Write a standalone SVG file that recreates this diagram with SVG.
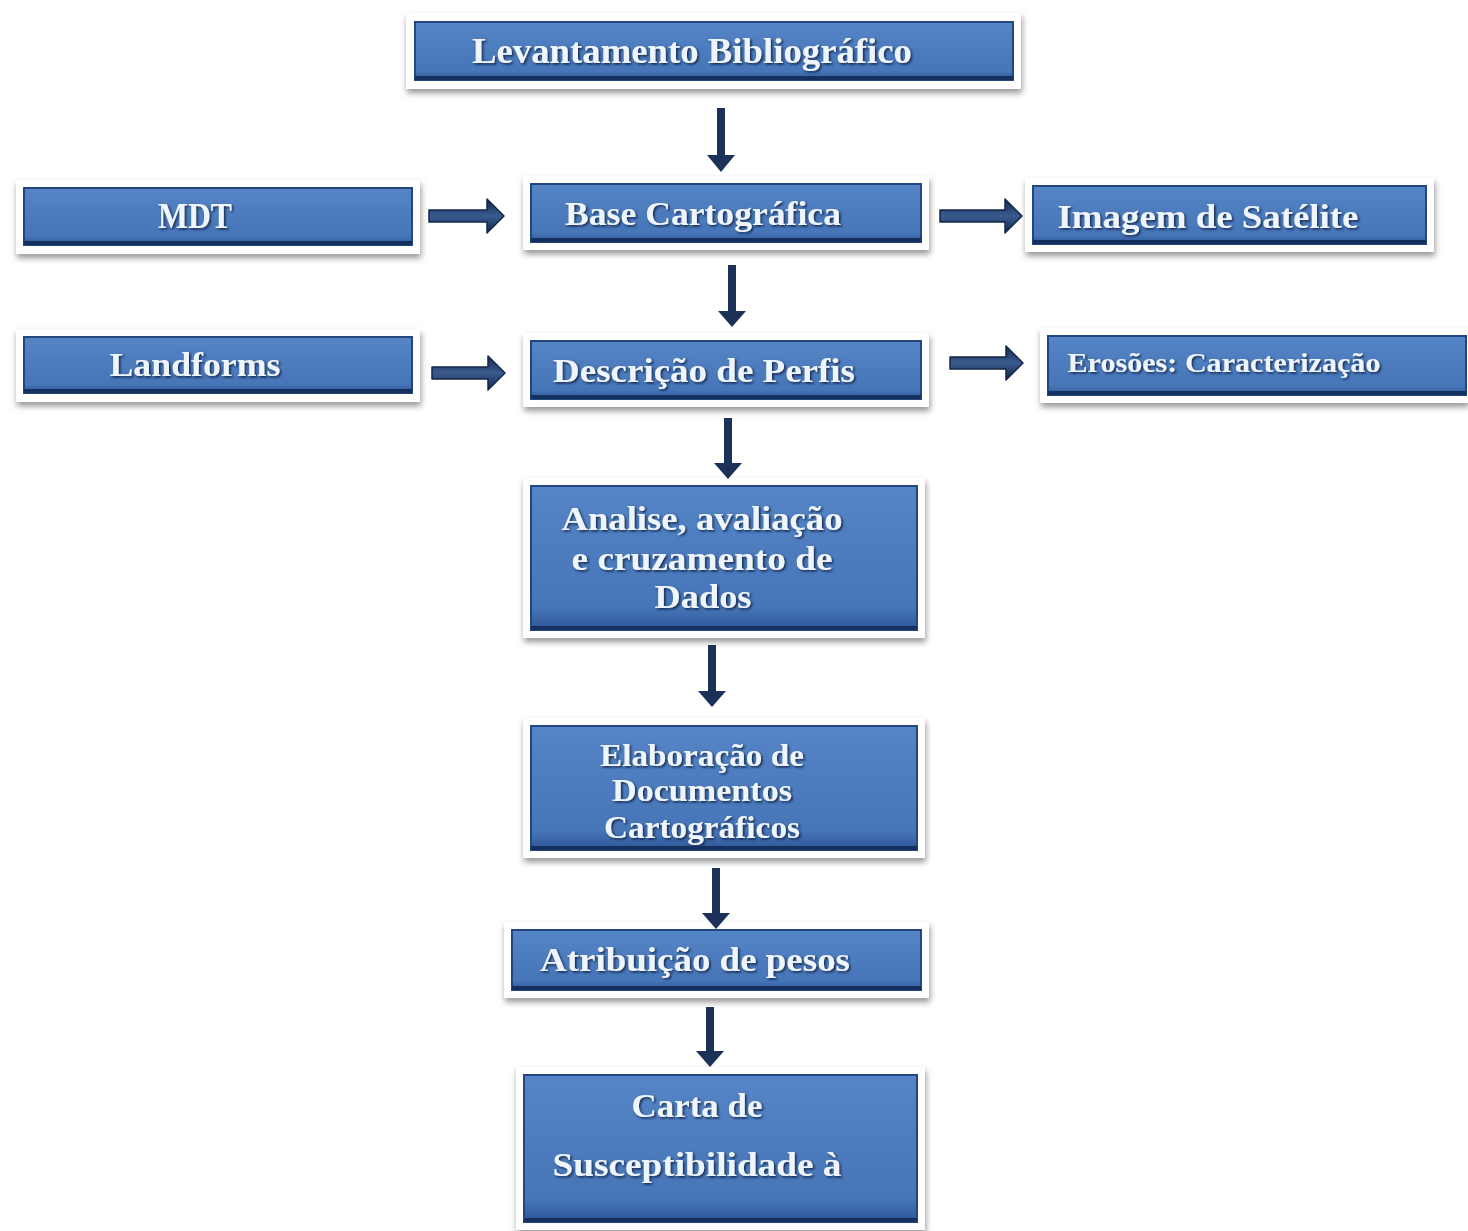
<svg xmlns="http://www.w3.org/2000/svg" width="1468" height="1231" viewBox="0 0 1468 1231">
<defs>
<linearGradient id="blue" x1="0" y1="0" x2="0" y2="1">
<stop offset="0" stop-color="#5585c6"/>
<stop offset="0.85" stop-color="#4675b8"/>
<stop offset="1" stop-color="#2d5597"/>
</linearGradient>
<linearGradient id="harrow" x1="0" y1="0" x2="0" y2="1">
<stop offset="0" stop-color="#14264a"/>
<stop offset="0.5" stop-color="#3a5b8f"/>
<stop offset="1" stop-color="#14264a"/>
</linearGradient>
<filter id="frameShadow" x="-5%" y="-20%" width="110%" height="150%">
<feDropShadow dx="1" dy="4" stdDeviation="3" flood-color="#7a7a7a" flood-opacity="0.8"/>
</filter>
<filter id="txtShadow" x="-5%" y="-20%" width="110%" height="150%">
<feDropShadow dx="1.5" dy="1.5" stdDeviation="1" flood-color="#0b1d3d" flood-opacity="0.9"/>
</filter>
<clipPath id="clipElab"><rect x="531" y="726" width="386" height="121"/></clipPath>
</defs>
<style>
.frame{fill:#ffffff;filter:url(#frameShadow)}
.box{fill:url(#blue);stroke:#24467f;stroke-width:2}
.bottom{fill:#14305e}
.t{font-family:"Liberation Serif","DejaVu Serif",serif;font-weight:bold;fill:#eef5fc;text-anchor:middle;filter:url(#txtShadow)}
.arrow{fill:#1b3158}
.harrow{fill:url(#harrow);stroke:#14264a;stroke-width:1.5;stroke-linejoin:round}
</style>
<rect width="1468" height="1231" fill="#ffffff"/>

<g id="n-levantamento">
<rect class="frame" x="406" y="13" width="615" height="76"/>
<rect class="box" x="415" y="22" width="598" height="58"/>
<rect class="bottom" x="415" y="76" width="598" height="4"/>
<text class="t" x="692" y="63" font-size="35" textLength="440" lengthAdjust="spacingAndGlyphs">Levantamento Bibliográfico</text>
</g>

<g id="n-mdt">
<rect class="frame" x="16" y="180" width="404" height="74"/>
<rect class="box" x="24" y="188" width="388" height="57"/>
<rect class="bottom" x="24" y="241" width="388" height="4"/>
<text class="t" x="195" y="228" font-size="35" textLength="74" lengthAdjust="spacingAndGlyphs">MDT</text>
</g>

<g id="n-base">
<rect class="frame" x="523" y="176" width="406" height="74"/>
<rect class="box" x="531" y="184" width="390" height="58"/>
<rect class="bottom" x="531" y="238" width="390" height="4"/>
<text class="t" x="703" y="225" font-size="34" textLength="276" lengthAdjust="spacingAndGlyphs">Base Cartográfica</text>
</g>

<g id="n-imagem">
<rect class="frame" x="1025" y="178" width="409" height="74"/>
<rect class="box" x="1033" y="186" width="393" height="58"/>
<rect class="bottom" x="1033" y="240" width="393" height="4"/>
<text class="t" x="1208" y="228" font-size="34" textLength="301" lengthAdjust="spacingAndGlyphs">Imagem de Satélite</text>
</g>

<g id="n-landforms">
<rect class="frame" x="16" y="329" width="404" height="73"/>
<rect class="box" x="24" y="337" width="388" height="56"/>
<rect class="bottom" x="24" y="389" width="388" height="4"/>
<text class="t" x="195" y="376" font-size="34" textLength="171" lengthAdjust="spacingAndGlyphs">Landforms</text>
</g>

<g id="n-descricao">
<rect class="frame" x="523" y="333" width="406" height="74"/>
<rect class="box" x="531" y="341" width="390" height="58"/>
<rect class="bottom" x="531" y="395" width="390" height="4"/>
<text class="t" x="704" y="382" font-size="34" textLength="302" lengthAdjust="spacingAndGlyphs">Descrição de Perfis</text>
</g>

<g id="n-erosoes">
<rect class="frame" x="1040" y="328" width="428" height="75"/>
<rect class="box" x="1048" y="336" width="418" height="59"/>
<rect class="bottom" x="1048" y="391" width="418" height="4"/>
<text class="t" x="1224" y="372" font-size="28" textLength="313" lengthAdjust="spacingAndGlyphs">Erosões: Caracterização</text>
</g>

<g id="n-analise">
<rect class="frame" x="523" y="478" width="402" height="160"/>
<rect class="box" x="531" y="486" width="386" height="144"/>
<rect class="bottom" x="531" y="626" width="386" height="4"/>
<text class="t" x="702" y="530" font-size="34" textLength="281" lengthAdjust="spacingAndGlyphs">Analise, avaliação</text>
<text class="t" x="702" y="570" font-size="34" textLength="261" lengthAdjust="spacingAndGlyphs">e cruzamento de</text>
<text class="t" x="703" y="608" font-size="34" textLength="97" lengthAdjust="spacingAndGlyphs">Dados</text>
</g>

<g id="n-elaboracao">
<rect class="frame" x="523" y="718" width="402" height="140"/>
<rect class="box" x="531" y="726" width="386" height="124"/>
<g clip-path="url(#clipElab)">
<text class="t" x="702" y="766" font-size="31" textLength="204" lengthAdjust="spacingAndGlyphs">Elaboração de</text>
<text class="t" x="702" y="801" font-size="31" textLength="180" lengthAdjust="spacingAndGlyphs">Documentos</text>
<text class="t" x="702" y="838" font-size="31" textLength="196" lengthAdjust="spacingAndGlyphs">Cartográficos</text>
</g>
<rect class="bottom" x="531" y="846" width="386" height="4"/>
</g>

<g id="n-atribuicao">
<rect class="frame" x="504" y="922" width="425" height="76"/>
<rect class="box" x="512" y="930" width="409" height="60"/>
<rect class="bottom" x="512" y="986" width="409" height="4"/>
<text class="t" x="695" y="971" font-size="34" textLength="310" lengthAdjust="spacingAndGlyphs">Atribuição de pesos</text>
</g>

<g id="n-carta">
<rect class="frame" x="516" y="1067" width="409" height="163"/>
<rect class="box" x="524" y="1075" width="393" height="147"/>
<rect class="bottom" x="524" y="1218" width="393" height="4"/>
<text class="t" x="697" y="1117" font-size="34" textLength="131" lengthAdjust="spacingAndGlyphs">Carta de</text>
<text class="t" x="697" y="1176" font-size="34" textLength="289" lengthAdjust="spacingAndGlyphs">Susceptibilidade à</text>
</g>

<g id="connectors">
<path class="arrow" d="M717,108 h8 v47 h10 l-14,17 l-14,-17 h10 z"/>
<path class="arrow" d="M728,265 h8 v46 h10 l-14,16 l-14,-16 h10 z"/>
<path class="arrow" d="M724,418 h8 v45 h10 l-14,16 l-14,-16 h10 z"/>
<path class="arrow" d="M708,645 h8 v46 h10 l-14,16 l-14,-16 h10 z"/>
<path class="arrow" d="M712,868 h8 v45 h10 l-14,16 l-14,-16 h10 z"/>
<path class="arrow" d="M706,1007 h8 v44 h10 l-14,16 l-14,-16 h10 z"/>
<path class="harrow" d="M429,210 h58 v-11 l17,17 l-17,17 v-11 h-58 z"/>
<path class="harrow" d="M940,210 h65 v-11 l17,17 l-17,17 v-11 h-65 z"/>
<path class="harrow" d="M432,367 h56 v-11 l17,17 l-17,17 v-11 h-56 z"/>
<path class="harrow" d="M950,357 h56 v-11 l17,17 l-17,17 v-11 h-56 z"/>
</g>
</svg>
